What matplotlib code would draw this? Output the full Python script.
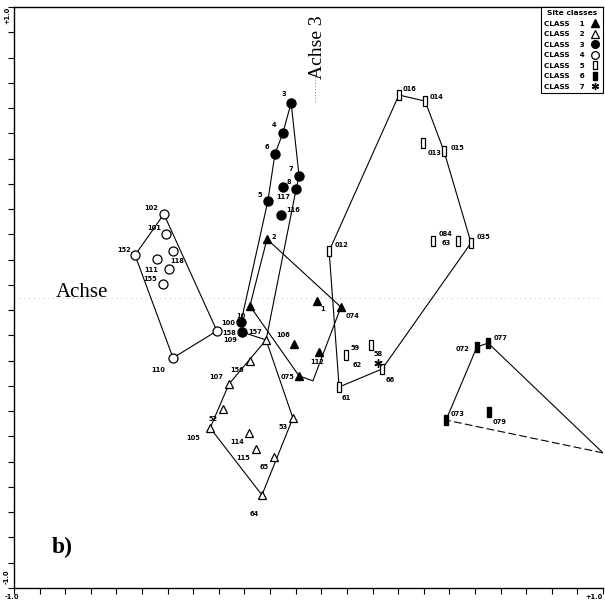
import numpy as np
import matplotlib.pyplot as plt
from matplotlib.lines import Line2D

# site scores (axis 1 / axis 3) by site class
c1_x = [-0.141, -0.199, 0.029, 0.110, -0.049, 0.036, -0.032]
c1_y = [0.201, -0.029, -0.012, -0.033, -0.160, -0.188, -0.270]
c1_lab = ['2', '10', '1', '074', '106', '112', '075']

c2_x = [-0.144, -0.199, -0.270, -0.290, -0.334, -0.202, -0.178, -0.117, -0.053, -0.158]
c2_y = [-0.146, -0.219, -0.298, -0.384, -0.449, -0.466, -0.521, -0.549, -0.415, -0.680]
c2_lab = ['157', '156', '107', '52', '105', '114', '115', '65', '53', '64']

c3_x = [-0.059, -0.087, -0.114, -0.032, -0.087, -0.042, -0.138, -0.093, -0.229, -0.226]
c3_y = [0.670, 0.566, 0.494, 0.418, 0.380, 0.373, 0.332, 0.284, -0.084, -0.119]
c3_lab = ['3', '4', '6', '7', '8', '117', '5', '116', '100', '158']

c4_x = [-0.491, -0.484, -0.460, -0.589, -0.514, -0.474, -0.494, -0.311, -0.460]
c4_y = [0.287, 0.219, 0.160, 0.146, 0.133, 0.098, 0.046, -0.115, -0.208]
c4_lab = ['102', '101', '118', '152', '', '111', '155', '109', '110']

c5_x = [0.307, 0.396, 0.389, 0.460, 0.423, 0.508, 0.552, 0.070, 0.127, 0.212, 0.250, 0.104]
c5_y = [0.697, 0.676, 0.532, 0.504, 0.194, 0.194, 0.188, 0.160, -0.198, -0.163, -0.246, -0.308]
c5_lab = ['016', '014', '013', '015', '084', '63', '035', '012', '62', '59', '66', '61']

c6_x = [0.572, 0.610, 0.467, 0.613]
c6_y = [-0.170, -0.157, -0.422, -0.394]
c6_lab = ['072', '077', '073', '079']

c7_x = [0.236]
c7_y = [-0.225]
c7_lab = ['58']

# class envelopes (closed)
hull1_x = [-0.141, 0.110, 0.015, -0.032, -0.199, -0.141]
hull1_y = [0.201, -0.033, -0.287, -0.270, -0.029, 0.201]
hull2_x = [-0.144, -0.053, -0.158, -0.334, -0.270, -0.144]
hull2_y = [-0.146, -0.415, -0.680, -0.449, -0.298, -0.146]
hull3_x = [-0.059, -0.032, -0.042, -0.144, -0.226, -0.229, -0.138, -0.114, -0.087, -0.059]
hull3_y = [0.670, 0.418, 0.373, -0.146, -0.119, -0.084, 0.332, 0.494, 0.566, 0.670]
hull4_x = [-0.491, -0.311, -0.460, -0.589, -0.491]
hull4_y = [0.287, -0.115, -0.208, 0.146, 0.287]
hull5_x = [0.307, 0.396, 0.460, 0.552, 0.250, 0.104, 0.070, 0.307]
hull5_y = [0.697, 0.676, 0.504, 0.188, -0.246, -0.308, 0.160, 0.697]
hull6_x = [0.467, 0.572, 0.610, 1.000]
hull6_y = [-0.422, -0.170, -0.157, -0.535]

# label placement, offset from the symbol in pixels
lab_off = {
    '2': (7, 2), '10': (-9, -10), '1': (6, -8), '074': (12, -9), '106': (-11, 9),
    '112': (-2, -10), '075': (-12, -1),
    '157': (-11, 8), '156': (-13, -9), '107': (-13, 7), '52': (-10, -10),
    '105': (-17, -10), '114': (-12, -9), '115': (-13, -9), '65': (-10, -10),
    '53': (-10, -9), '64': (-8, -19),
    '3': (-7, 9), '4': (-9, 8), '6': (-8, 7), '7': (-8, 7), '8': (6, 5),
    '117': (-13, -8), '5': (-8, 6), '116': (12, 5), '100': (-13, -1), '158': (-13, -1),
    '102': (-13, 6), '101': (-12, 6), '118': (4, -10), '152': (-11, 5),
    '111': (-18, -1), '155': (-13, 5), '109': (13, -9), '110': (-15, -12),
    '016': (11, 6), '014': (11, 4), '013': (12, -10), '015': (14, 3), '084': (12, 7),
    '63': (-12, -2), '035': (12, 6), '012': (12, 6), '62': (11, -10), '59': (-16, -3),
    '66': (8, -11), '61': (7, -11),
    '072': (-14, -2), '077': (12, 5), '073': (12, 6), '079': (11, -10),
    '58': (0, 9),
}

rect = [(-0.45, -1), (0.45, -1), (0.45, 1), (-0.45, 1), (-0.45, -1)]
styles = [
    dict(marker='^', ms=6, mfc='black', mec='black'),
    dict(marker='^', ms=6, mfc='white', mec='black', mew=0.9),
    dict(marker='o', ms=6.5, mfc='black', mec='black'),
    dict(marker='o', ms=6.5, mfc='white', mec='black', mew=0.9),
    dict(marker=rect, ms=7, mfc='white', mec='black', mew=0.9),
    dict(marker=rect, ms=7, mfc='black', mec='black'),
    dict(marker=(6, 2, 0), ms=6, mfc='black', mec='black', mew=1.0),
]

fig = plt.figure(figsize=(6.05, 6.01), dpi=100)
ax = fig.add_axes([14 / 605, 13 / 601, 589 / 605, 581 / 601])
ax.set_xlim(-1, 1)
ax.set_ylim(-1, 1)

ax.axhline(0, color='0.72', lw=0.7, ls=(0, (1, 4)), zorder=0)

line_kw = dict(color='black', lw=0.8, zorder=1)
ax.plot(hull1_x, hull1_y, **line_kw)
ax.plot(hull2_x, hull2_y, **line_kw)
ax.plot(hull3_x, hull3_y, **line_kw)
ax.plot(hull4_x, hull4_y, **line_kw)
ax.plot(hull5_x, hull5_y, **line_kw)
ax.plot(hull6_x, hull6_y, **line_kw)
ax.plot([hull6_x[-1], hull6_x[0]], [hull6_y[-1], hull6_y[0]],
        color='black', lw=0.8, dashes=(7, 3), zorder=1)

classes = [(c1_x, c1_y, c1_lab), (c2_x, c2_y, c2_lab), (c3_x, c3_y, c3_lab),
           (c4_x, c4_y, c4_lab), (c5_x, c5_y, c5_lab), (c6_x, c6_y, c6_lab),
           (c7_x, c7_y, c7_lab)]

for (xs, ys, labs), st in zip(classes, styles):
    ax.plot(xs, ys, ls='none', zorder=3, **st)
    for x, y, lab in zip(xs, ys, labs):
        if not lab:
            continue
        ax.annotate(lab, (x, y), xytext=lab_off[lab], textcoords='offset pixels',
                    ha='center', va='center', fontsize=4.8, fontweight='bold')

# axes frame and ticks
ticks = np.linspace(-1, 1, 24)
ax.set_xticks(ticks)
ax.set_yticks(ticks)
ax.set_xticklabels([])
ax.set_yticklabels([])
ax.tick_params(direction='out', length=4, width=0.8)
ax.spines['right'].set_visible(False)
for s in ['left', 'bottom', 'top']:
    ax.spines[s].set_linewidth(1.0)

tk = dict(fontsize=4.8, fontweight='bold', ha='center', va='center')
ax.text(-0.012, 0.985, '+1.0', rotation=90, transform=ax.transAxes, **tk)
ax.text(-0.012, 0.02, '-1.0', rotation=90, transform=ax.transAxes, **tk)
ax.text(-0.003, -0.016, '-1.0', transform=ax.transAxes, **tk)
ax.text(0.985, -0.016, '+1.0', transform=ax.transAxes, **tk)

serif = 'Liberation Serif'
ax.text(0.115, 0.508, 'Achse', family=serif, fontsize=15, ha='center', va='center',
        transform=ax.transAxes)
ax.text(0.516, 0.93, 'Achse 3', family=serif, fontsize=14, rotation=90,
        ha='center', va='center', transform=ax.transAxes)
ax.plot([0.511, 0.511], [0.885, 0.835], transform=ax.transAxes,
        color='0.5', lw=0.7, ls=(0, (1, 2)))
ax.text(0.082, 0.07, 'b)', family=serif, fontsize=17, fontweight='bold',
        ha='center', va='center', transform=ax.transAxes)

handles = [Line2D([], [], ls='none', **st) for st in styles]
for h in handles:
    h.set_markersize(h.get_markersize() * 0.85)
leg = ax.legend(handles, ['CLASS    %d' % i for i in range(1, 8)],
                title='Site classes', loc='upper right', bbox_to_anchor=(1.0, 1.0),
                borderaxespad=0, markerfirst=False, fontsize=5.2,
                title_fontsize=5.4, labelspacing=0.62, handlelength=1.2,
                handletextpad=0.9, borderpad=0.45, fancybox=False,
                edgecolor='black', framealpha=1)
leg.get_frame().set_linewidth(0.8)
for t in leg.get_texts():
    t.set_fontweight('bold')
leg.get_title().set_fontweight('bold')

fig.savefig('out.png', dpi=100)
